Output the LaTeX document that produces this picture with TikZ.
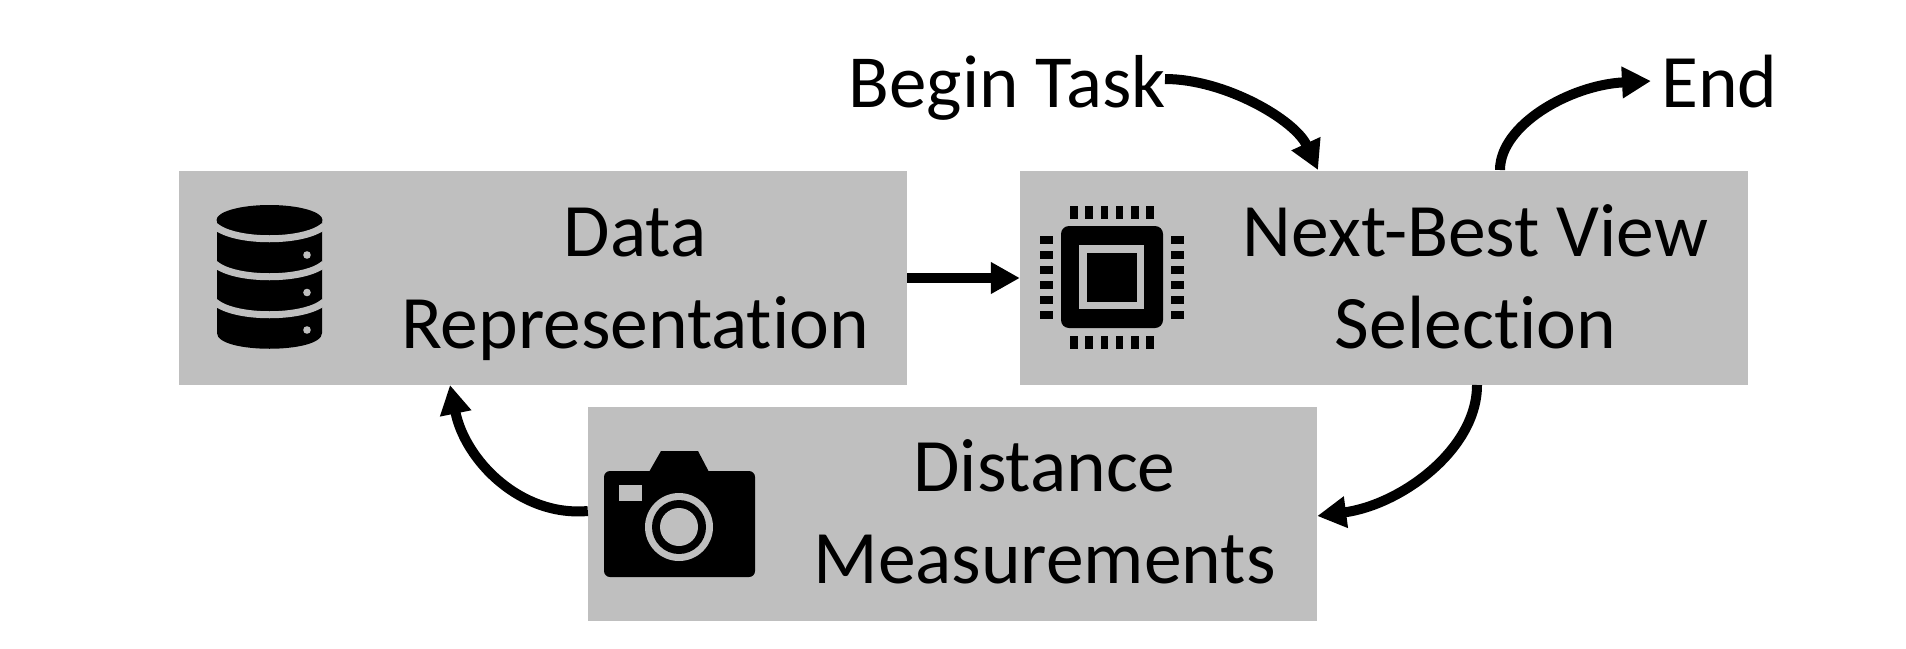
\documentclass[tikz,border=0pt]{standalone}
\usepackage{fontspec}
\setmainfont[Ligatures=NoCommon]{Carlito}
\usetikzlibrary{arrows.meta}
\definecolor{boxgray}{HTML}{BFBFBF}
\tikzset{
  x=1pt,y=-1pt,
  stagebox/.style={fill=boxgray,draw=none,inner sep=0pt,minimum width=728pt,minimum height=214pt},
  lbl/.style={font=\fontsize{75.5}{92}\selectfont,align=center,inner sep=0pt,text=black},
  conn/.style={line width=10pt,black,-{Triangle[length=29pt,width=30pt]}},
  pin/.style={fill=black,draw=none},
}
\begin{document}
\begin{tikzpicture}
\useasboundingbox (0,0) rectangle (1906,648);
\fill[white] (0,0) rectangle (1906,648);
% boxes
\node[stagebox] (data) at (543,278) {};
\node[stagebox] (next) at (1384,278) {};
\node[stagebox,minimum width=729pt] (dist) at (952.5,514) {};
% labels
\node[lbl] (datatxt) at (635,284) {Data\\Representation};
\node[lbl] (nexttxt) at (1475.5,276.5) {Next-Best View\\Selection};
\node[lbl] (disttxt) at (1044.5,511.5) {Distance\\Measurements};
\node[lbl,font=\fontsize{75}{92}\selectfont,anchor=base east] (begin) at (1166,107) {Begin Task};
\node[lbl,anchor=base west] (end) at (1661,107) {End};
% connector ends
\coordinate (bs) at (1165,79);
\coordinate (bt) at (1318,170);
\coordinate (es) at (1500,170);
\coordinate (et) at (1651,81);
\coordinate (ns) at (1477,385);
\coordinate (dt) at ([yshift=-2pt]dist.east);
\coordinate (ds) at ([yshift=3pt]dist.west);
\coordinate (rt) at (450,385);
% connectors
\draw[conn] (data.east) -- (next.west);
\draw[conn] (bs) .. controls (1225,79) and (1295,120) .. (bt);
\draw[conn] (es) .. controls (1500,125) and (1570,85) .. (et);
\draw[conn] (ns) .. controls (1477,450) and (1400,505) .. (dt);
\draw[conn] (ds) .. controls (520,517) and (465,460) .. (rt);
% database icon
\fill[black] (217,221) -- (217,333) .. controls (217,354) and (322,354) .. (322,333) -- (322,221) -- cycle;
\fill[black] (269.5,220) ellipse [x radius=53, y radius=15];
\foreach \yy in {226,264,302}{
  \draw[boxgray,line width=7pt] (215,\yy) .. controls (235,\yy+17) and (304,\yy+17) .. (324,\yy);
}
\foreach \yy in {255,292.5,330}{\fill[boxgray] (307,\yy) circle [radius=3.8];}
% chip icon
\fill[black,rounded corners=8pt] (1061,226) rectangle (1163,328);
\fill[boxgray] (1079,245) rectangle (1144,309);
\fill[black] (1087,253) rectangle (1137,302);
\foreach \xx in {1074,1089,1104.3,1119.3,1134.7,1150}{
  \fill[pin] (\xx-3.8,206) rectangle (\xx+3.8,219);
  \fill[pin] (\xx-3.8,336) rectangle (\xx+3.8,349);
}
\foreach \yy in {239.7,254.7,269.7,285,300,315}{
  \fill[pin] (1040,\yy-3.8) rectangle (1053,\yy+3.8);
  \fill[pin] (1171,\yy-3.8) rectangle (1184,\yy+3.8);
}
% camera icon
\fill[black,rounded corners=6pt] (604,471) rectangle (755,577);
\fill[black] (649,472) -- (661,451) -- (698,451) -- (709,472) -- cycle;
\fill[boxgray] (619,485) rectangle (642,501);
\fill[boxgray] (679,527) circle [radius=34];
\fill[black] (679,527) circle [radius=27];
\fill[boxgray] (679,527) circle [radius=19];
\end{tikzpicture}
\end{document}
